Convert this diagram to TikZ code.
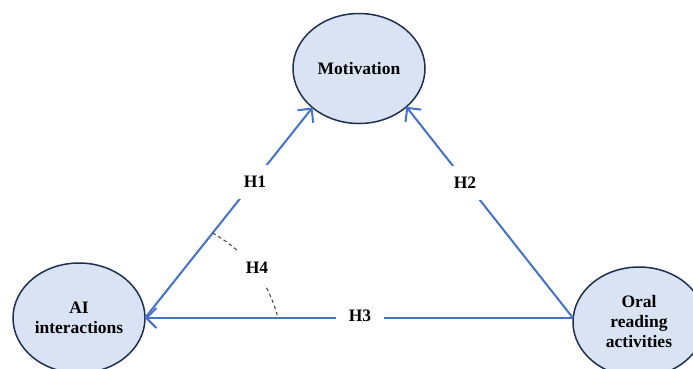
\documentclass[tikz,border=0pt]{standalone}
\usepackage{fontspec}
\setmainfont{Liberation Serif}
\usetikzlibrary{arrows.meta,shapes.geometric}
\definecolor{efill}{HTML}{DAE3F3}
\definecolor{edraw}{HTML}{1F2F4F}
\definecolor{arr}{HTML}{4472C4}
\begin{document}
\begin{tikzpicture}[x=1pt,y=-1pt,
  var/.style={ellipse,draw=edraw,fill=efill,line width=1.5pt,minimum width=132pt,minimum height=110pt,inner sep=0pt,outer sep=0pt,align=center,font=\bfseries\fontsize{17.5}{20}\selectfont},
  conn/.style={draw=arr,line width=2pt,-{Straight Barb[length=10pt,width=20pt,line width=2pt]}},
  hl/.style={fill=white,inner xsep=13pt,inner ysep=11pt,font=\bfseries\fontsize{17.5}{20}\selectfont},
  hdash/.style={draw=black!75,line width=1pt,dash pattern=on 3.5pt off 3pt}]
\path[fill=white] (0,0) rectangle (693,368);
\useasboundingbox (0,0) rectangle (693,368);
\node[var] (mot) at (359,68.5) {Motivation};
\node[var] (ai) at (79,318) {AI\\interactions};
\node[var] (oral) at (639,322) {Oral\\reading\\activities};
\coordinate (oin) at (oral.west |- ai.east);
\draw[conn] (ai.east) -- (mot.-140);
\draw[conn] (oin) -- (mot.-39);
\draw[conn] (oin) -- (ai.east);
\coordinate (h4s) at (212.6,233);
\coordinate (h4e) at (278,318);
\draw[hdash] (h4s) .. controls (246,252) and (268,280) .. (h4e);
\node[hl] (h1) at (255,182) {H1};
\node[hl] (h2) at (465,183) {H2};
\node[hl] (h3) at (360,316) {H3};
\node[hl] (h4) at (257,268) {H4};
\end{tikzpicture}
\end{document}
